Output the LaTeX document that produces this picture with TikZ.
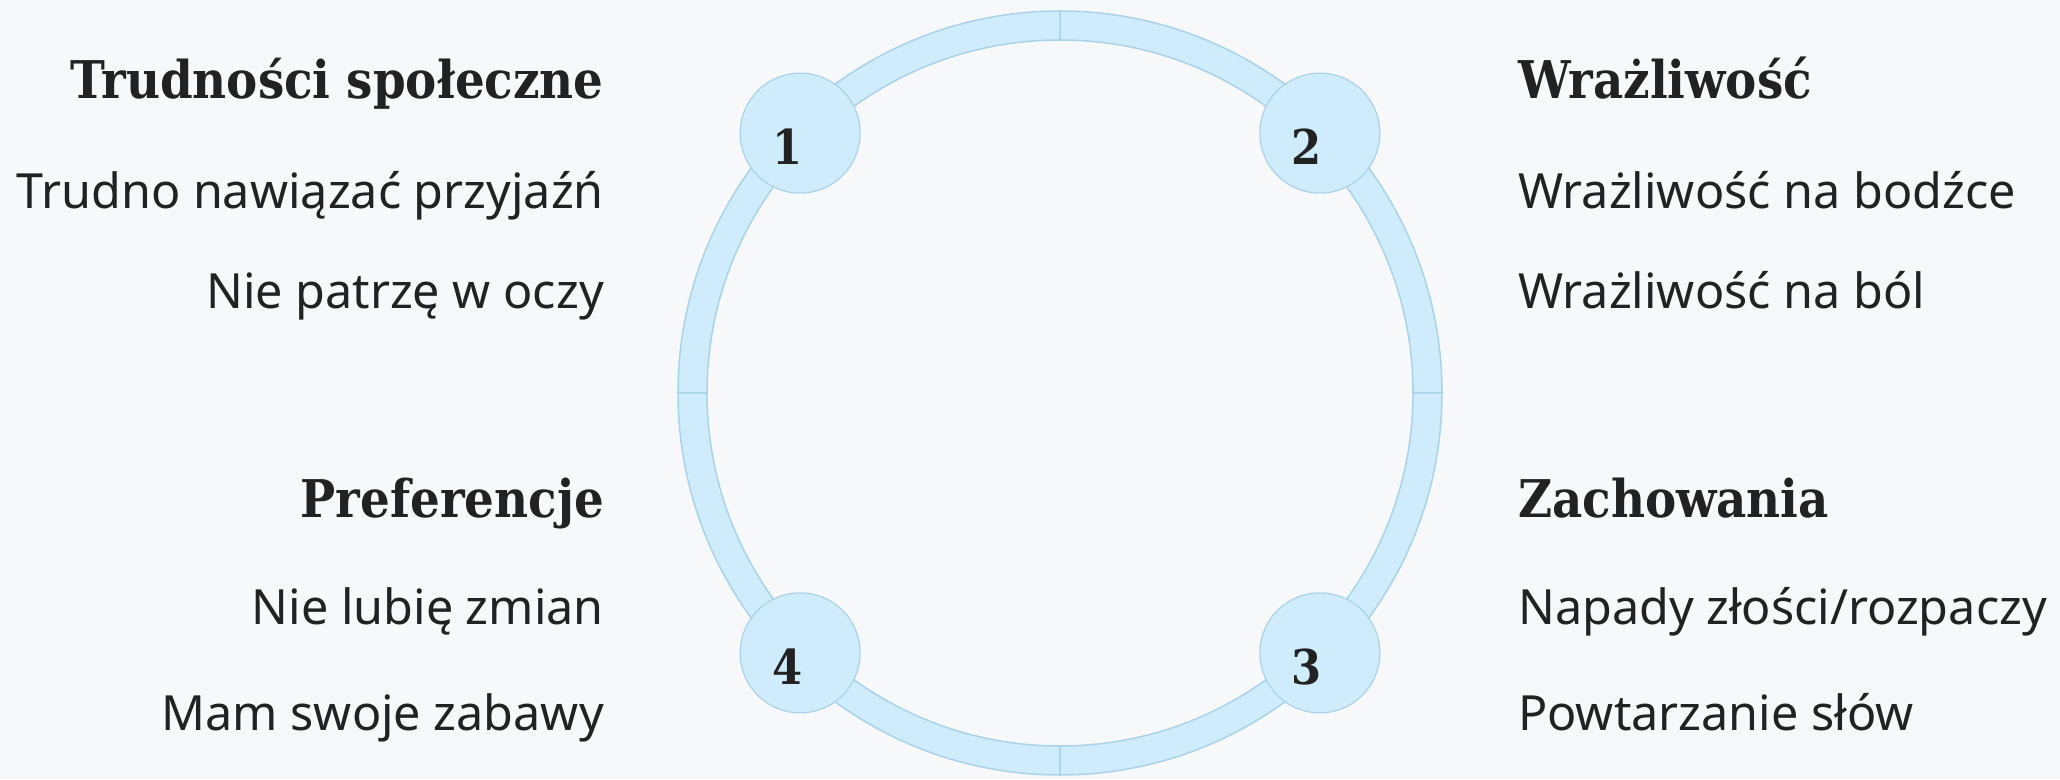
\documentclass[tikz,border=0pt]{standalone}
\usepackage{fontspec}
\setmainfont{Noto Sans}
\newfontfamily\headfont{DejaVu Serif Condensed}
\usetikzlibrary{positioning,calc}

\definecolor{bgcol}{HTML}{F6F8FA}
\definecolor{ringfill}{HTML}{CFECFC}
\definecolor{ringline}{HTML}{AAD3E9}
\definecolor{inkcol}{HTML}{222222}

\tikzset{
  ringseg/.style={fill=ringfill, draw=ringline, line width=1.5pt},
  stepdot/.style={circle, minimum size=120pt, inner sep=0pt,
                  fill=ringfill, draw=ringline, line width=1.2pt},
  numtxt/.style={font=\headfont\bfseries\fontsize{48}{50}\selectfont,
                 text=inkcol, inner sep=0pt},
  headtxt/.style={font=\headfont\bfseries\fontsize{52}{60}\selectfont,
                  text=inkcol, inner sep=0pt},
  bodytxt/.style={font=\fontsize{48.5}{52}\selectfont, text=inkcol, inner sep=0pt},
}

\begin{document}
\begin{tikzpicture}[x=1pt,y=1pt]
  \useasboundingbox (0,0) rectangle (2060,779);
  \fill[bgcol] (0,0) rectangle (2060,779);
  %
  % the ring, four quarters
  \begin{scope}[shift={(1060,386)}]
    \foreach \a in {0,90,180,270}
      {\draw[ringseg] (\a:382pt) arc[start angle=\a, end angle=\a+90, radius=382pt]
         -- (\a+90:353pt) arc[start angle=\a+90, end angle=\a, radius=353pt] -- cycle;}
    \node[stepdot] (c1) at (135:367.5pt) {};
    \node[stepdot] (c2) at (45:367.5pt) {};
    \node[stepdot] (c3) at (-45:367.5pt) {};
    \node[stepdot] (c4) at (-135:367.5pt) {};
  \end{scope}
  \foreach \i in {1,...,4}
    {\node[numtxt] (num\i) at ([shift={(-13,-14)}]c\i.center) {\i};}
  %
  % left column
  \node[headtxt, anchor=base east] (h1) at (604,680) {Trudności społeczne};
  \node[bodytxt, anchor=base east] (l1a) at ([yshift=-110pt]h1.base east) {Trudno nawiązać przyjaźń};
  \node[bodytxt, anchor=base east] (l1b) at ([yshift=-100pt]l1a.base east) {Nie patrzę w oczy};
  \node[headtxt, anchor=base east] (h4) at (604,261) {Preferencje};
  \node[bodytxt, anchor=base east] (l4a) at ([yshift=-107pt]h4.base east) {Nie lubię zmian};
  \node[bodytxt, anchor=base east] (l4b) at ([yshift=-105pt]l4a.base east) {Mam swoje zabawy};
  %
  % right column
  \node[headtxt, anchor=base west] (h2) at (1518,680) {Wrażliwość};
  \node[bodytxt, anchor=base west] (l2a) at ([yshift=-110pt]h2.base west) {Wrażliwość na bodźce};
  \node[bodytxt, anchor=base west] (l2b) at ([yshift=-100pt]l2a.base west) {Wrażliwość na ból};
  \node[headtxt, anchor=base west] (h3) at (1518,261) {Zachowania};
  \node[bodytxt, anchor=base west] (l3a) at ([yshift=-107pt]h3.base west) {Napady złości/rozpaczy};
  \node[bodytxt, anchor=base west] (l3b) at ([yshift=-105pt]l3a.base west) {Powtarzanie słów};
\end{tikzpicture}
\end{document}
